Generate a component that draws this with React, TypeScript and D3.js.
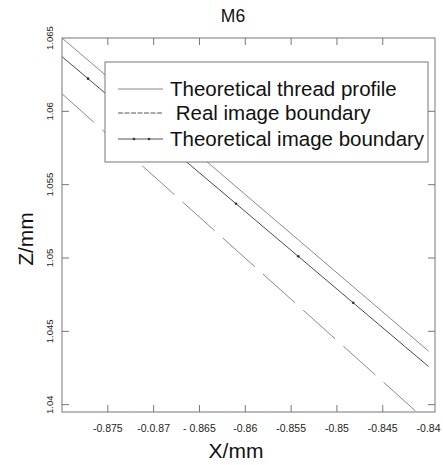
import React from "react";
import * as d3 from "d3";

const title = "M6";
const xLabel = "X/mm";
const yLabel = "Z/mm";

const xTickValues = [-0.875, -0.87, -0.865, -0.86, -0.855, -0.85, -0.845, -0.84];
const xTickLabels = ["-0.875", "-0.0.87", "- 0.865", "-0.86", "-0.855", "-0.85", "-0.845", "-0.84"];
const yTickValues = [1.04, 1.045, 1.05, 1.055, 1.06, 1.065];
const yTickLabels = ["1.04", "1.045", "1.05", "1.055", "1.06", "1.065"];

const profileX = [-0.88, -0.84];
const profileZ = [1.065, 1.04365];
const realX = [-0.88, -0.8413];
const realZ = [1.0612, 1.0395];
const theoX = [-0.88, -0.84];
const theoZ = [1.06373, 1.0426];
const theoMarkerX = [-0.87716, -0.86101, -0.85422, -0.84822];

const legendLabels = ["Theoretical thread profile", " Real image boundary", "Theoretical image boundary"];

const W = 443, H = 465;
const L = 62, R = 435, T = 38, B = 412;

export default function App() {
  const x = d3.scaleLinear().domain([-0.88, -0.8393]).range([L, R]);
  const y = d3.scaleLinear().domain([1.0395, 1.065]).range([B, T]);
  const line = d3.line<[number, number]>().x(d => x(d[0])).y(d => y(d[1]));
  const pts = (xs: number[], zs: number[]) => xs.map((v, i) => [v, zs[i]] as [number, number]);
  const theoInterp = d3.scaleLinear().domain(theoX).range(theoZ);
  const axisColor = "#777";
  const font = "'Liberation Sans', Arial, sans-serif";
  const legRows = [89, 113, 139];
  return (
    <svg width={W} height={H} style={{ position: "absolute", left: 0, top: 0, background: "#fff" }} fontFamily={font}>
      <defs>
        <clipPath id="plot"><rect x={L} y={T} width={R - L} height={B - T} /></clipPath>
      </defs>
      <rect x={0} y={0} width={W} height={H} fill="#fff" />
      <text x={233} y={22} textAnchor="middle" fontSize={17.5} fill="#111">{title}</text>
      <g clipPath="url(#plot)">
        <path d={line(pts(profileX, profileZ)) || ""} stroke="#8a8a8a" strokeWidth={1} fill="none" />
        <path d={line(pts(theoX, theoZ)) || ""} stroke="#4a4a4a" strokeWidth={1} fill="none" />
        <path d={line(pts(realX, realZ)) || ""} stroke="#8a8a8a" strokeWidth={1} fill="none" strokeDasharray="43 11" />
        {theoMarkerX.map((v, i) => (
          <circle key={i} cx={x(v)} cy={y(theoInterp(v))} r={1.3} fill="#333" />
        ))}
      </g>
      <rect x={L} y={T} width={R - L} height={B - T} fill="none" stroke={axisColor} strokeWidth={1} />
      {xTickValues.slice(0, -1).map((v, i) => (
        <g key={"xt" + i}>
          <line x1={x(v)} x2={x(v)} y1={B} y2={B - 7} stroke={axisColor} />
          <line x1={x(v)} x2={x(v)} y1={T} y2={T + 7} stroke={axisColor} />
        </g>
      ))}
      {xTickValues.map((v, i) => (
        <text key={"xl" + i} x={x(v)} y={432} textAnchor="middle" fontSize={10.5} fill="#222">{xTickLabels[i]}</text>
      ))}
      {yTickValues.map((v, i) => (
        <g key={"yt" + i}>
          {v !== 1.065 && <line x1={L} x2={L + 7} y1={y(v)} y2={y(v)} stroke={axisColor} />}
          {v !== 1.065 && <line x1={R} x2={R - 7} y1={y(v)} y2={y(v)} stroke={axisColor} />}
          <text transform={`translate(53,${y(v)}) rotate(-90)`} textAnchor="middle" fontSize={9.5} fill="#222">{yTickLabels[i]}</text>
        </g>
      ))}
      <text x={236} y={458} textAnchor="middle" fontSize={21} fill="#111">{xLabel}</text>
      <text transform={`translate(33,239) rotate(-90)`} textAnchor="middle" fontSize={21} fill="#111">{yLabel}</text>
      <rect x={105} y={62} width={323} height={100} fill="#fff" stroke={axisColor} strokeWidth={1} />
      <line x1={118} x2={163} y1={legRows[0]} y2={legRows[0]} stroke="#8a8a8a" />
      <line x1={118} x2={163} y1={legRows[1]} y2={legRows[1]} stroke="#555" strokeDasharray="5 1.5" />
      <line x1={118} x2={163} y1={legRows[2]} y2={legRows[2]} stroke="#555" />
      <circle cx={134} cy={legRows[2]} r={1.3} fill="#333" />
      <circle cx={149} cy={legRows[2]} r={1.3} fill="#333" />
      {legendLabels.map((t, i) => (
        <text key={"lg" + i} x={170} y={legRows[i] + 7} fontSize={20.5} fill="#111" style={{ whiteSpace: "pre" }}>{t}</text>
      ))}
    </svg>
  );
}
